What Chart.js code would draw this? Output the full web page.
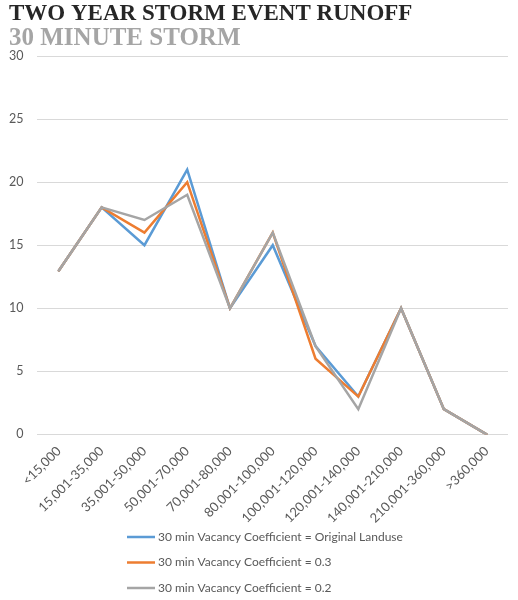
<!DOCTYPE html>
<html>
<head>
<meta charset="utf-8">
<script src="https://cdn.jsdelivr.net/npm/chart.js@4/dist/chart.umd.min.js"></script>
<style>
html,body{margin:0;padding:0;background:#fff;}
#wrap{width:518px;height:600px;position:relative;}
</style>
</head>
<body>
<div id="wrap"><canvas id="c" width="518" height="600"></canvas></div>
<script>
const categories = ["<15,000","15,001-35,000","35,001-50,000","50,001-70,000","70,001-80,000","80,001-100,000","100,001-120,000","120,001-140,000","140,001-210,000","210,001-360,000",">360,000"];
const seriesOriginal = [13,18,15,21,10,15,7,3,10,2,0];
const series03 = [13,18,16,20,10,16,6,3,10,2,0];
const series02 = [13,18,17,19,10,16,7,2,10,2,0];
const seriesNames = ["30 min Vacancy Coefficient = Original Landuse","30 min Vacancy Coefficient = 0.3","30 min Vacancy Coefficient = 0.2"];
const titleText = "TWO YEAR STORM EVENT RUNOFF";
const subtitleText = "30 MINUTE STORM";

const textColor = "#595959";
const xTickFont = {family: "Lato, 'Open Sans', sans-serif", size: 13};
const yTickFont = {family: "Lato, 'Open Sans', sans-serif", size: 12.5};
const yPad = 14;

const customLegend = {
  id: 'customLegend',
  afterDraw(chart) {
    const ctx = chart.ctx;
    ctx.save();
    ctx.font = "12px Lato, 'Open Sans', sans-serif";
    ctx.textBaseline = 'middle';
    ctx.textAlign = 'left';
    const x0 = 127, y0 = 537, dy = 25.5;
    chart.data.datasets.forEach((ds, i) => {
      const y = y0 + i * dy;
      ctx.strokeStyle = ds.borderColor;
      ctx.lineWidth = 2.5;
      ctx.beginPath();
      ctx.moveTo(x0, y);
      ctx.lineTo(x0 + 28, y);
      ctx.stroke();
      ctx.fillStyle = textColor;
      ctx.fillText(ds.label, x0 + 31, y);
    });
    ctx.restore();
  }
};

new Chart(document.getElementById('c'), {
  type: 'line',
  data: {
    labels: categories,
    datasets: [
      {label: seriesNames[0], data: seriesOriginal, borderColor: '#5B9BD5', backgroundColor: '#5B9BD5', order: 3},
      {label: seriesNames[1], data: series03, borderColor: '#ED7D31', backgroundColor: '#ED7D31', order: 2},
      {label: seriesNames[2], data: series02, borderColor: '#A5A5A5', backgroundColor: '#A5A5A5', order: 1}
    ]
  },
  options: {
    responsive: false,
    animation: false,
    devicePixelRatio: 1,
    layout: {padding: {left: 9, right: 10, top: 0, bottom: 65}},
    elements: {
      line: {borderWidth: 2.5, tension: 0, borderCapStyle: 'round', borderJoinStyle: 'miter'},
      point: {radius: 0, hoverRadius: 0}
    },
    plugins: {
      legend: {display: false},
      tooltip: {enabled: false},
      title: {
        display: true, text: titleText, align: 'start', color: '#262626',
        font: {family: "'Liberation Serif', 'DejaVu Serif', serif", size: 23, weight: 'bold', lineHeight: 1},
        padding: {top: 3, bottom: 0}
      },
      subtitle: {
        display: true, text: subtitleText, align: 'start', color: '#A5A5A5',
        font: {family: "'Liberation Serif', 'DejaVu Serif', serif", size: 25, weight: 'bold', lineHeight: 1},
        padding: {top: 0, bottom: 5}
      }
    },
    scales: {
      x: {
        offset: true,
        grid: {display: false, drawTicks: false},
        border: {display: false},
        ticks: {color: textColor, font: xTickFont, maxRotation: 45, minRotation: 45, padding: 9, autoSkip: false},
        afterFit(scale) { scale.paddingLeft = 0; scale.paddingRight = 0; }
      },
      y: {
        min: 0, max: 30,
        grid: {color: '#D9D9D9', lineWidth: 1, drawTicks: false},
        border: {display: false},
        ticks: {stepSize: 5, color: textColor, font: yTickFont, padding: yPad},
        afterFit(scale) { scale.width = scale.width - yPad; }
      }
    }
  },
  plugins: [customLegend]
});
</script>
</body>
</html>
